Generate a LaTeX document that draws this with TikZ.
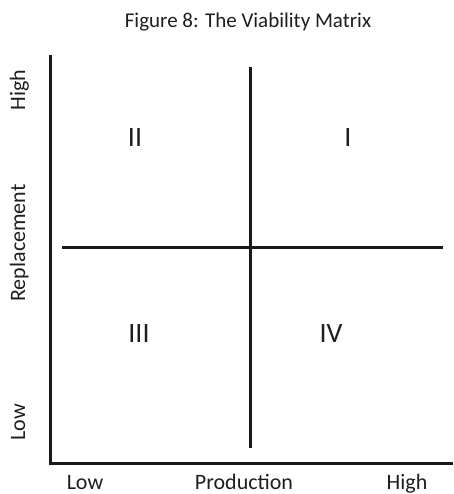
\documentclass[tikz,border=0pt]{standalone}
\usepackage{fontspec}
\setmainfont{Carlito}
\usetikzlibrary{positioning}
\definecolor{inkgray}{RGB}{25, 25, 25}
\definecolor{textgray}{RGB}{30, 30, 30}
\tikzset{
    axis/.style={line width=3pt, draw=inkgray, line join=miter},
    divider/.style={line width=3pt, draw=inkgray},
    lbl/.style={font=\fontsize{22}{26}\selectfont, text=textgray,
                inner sep=0pt, anchor=base},
    quad/.style={font=\fontsize{28}{32}\selectfont, text=textgray,
                 inner sep=0pt, anchor=base},
}

\begin{document}
\begin{tikzpicture}[x=1pt, y=-1pt]
    \useasboundingbox (0,0) rectangle (453,494);

    % Corners of the matrix
    \coordinate (top) at (50,55);
    \coordinate (origin) at (50,463);
    \coordinate (right) at (453,463);

    % Axes
    \draw[axis] (top) -- (origin) -- (right);

    % Dividers
    \coordinate (vtop) at (250,67);
    \coordinate (vbot) at (250,448);
    \coordinate (hleft) at (62,247);
    \coordinate (hright) at (443,247);
    \draw[divider] (vtop) -- (vbot);
    \draw[divider] (hleft) -- (hright);

    % Title
    \node[lbl, font=\fontsize{21}{25}\selectfont] (title) at (248,28)
        {Figure 8: The Viability Matrix};

    % Quadrants
    \node[quad] (q2) at (135,147) {II};
    \node[quad] (q1) at (348,147) {I};
    \node[quad] (q3) at (139,342) {III};
    \node[quad] (q4) at (331,342) {IV};

    % Vertical axis labels
    \node[lbl, rotate=90] (yhigh) at (25,90) {High};
    \node[lbl, rotate=90] (yname) at (25,243) {Replacement};
    \node[lbl, rotate=90] (ylow) at (25,422) {Low};

    % Horizontal axis labels
    \node[lbl] (xlow) at (85,489) {Low};
    \node[lbl] (xname) at (244,489) {Production};
    \node[lbl] (xhigh) at (407,489) {High};
\end{tikzpicture}
\end{document}
